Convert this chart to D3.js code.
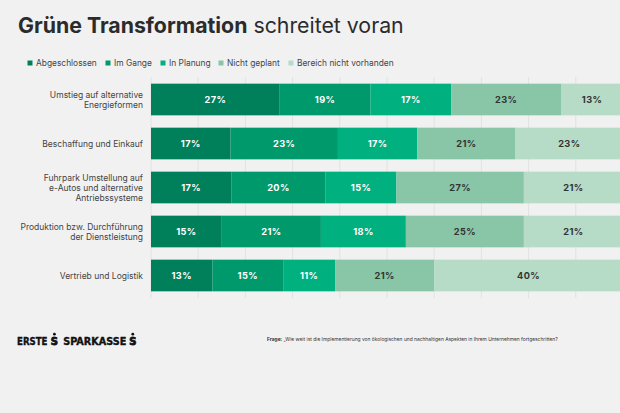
<!DOCTYPE html>
<html><head><meta charset="utf-8">
<script src="https://cdn.jsdelivr.net/npm/d3@7"></script>
<style>
html,body{margin:0;padding:0;background:#f1f1f1;overflow:hidden;}
svg{display:block;font-family:Inter,"Noto Sans",sans-serif;}
</style></head><body>
<svg id="c" width="620" height="413"></svg>
<script>
const categories = [
  ["Umstieg auf alternative","Energieformen"],
  ["Beschaffung und Einkauf"],
  ["Fuhrpark Umstellung auf","e-Autos und alternative","Antriebssysteme"],
  ["Produktion bzw. Durchführung","der Dienstleistung"],
  ["Vertrieb und Logistik"]
];
const seriesNames = ["Abgeschlossen","Im Gange","In Planung","Nicht geplant","Bereich nicht vorhanden"];
const abgeschlossen = [27,17,17,15,13];
const imGange = [19,23,20,21,15];
const inPlanung = [17,17,15,18,11];
const nichtGeplant = [23,21,27,25,21];
const bereichNichtVorhanden = [13,23,21,21,40];
const gridTicks = [0,0.1,0.2,0.3,0.4,0.5,0.6,0.7,0.8,0.9,1];

const colors = ["#007f5b","#00996c","#00b07f","#88c6a7","#b6dbc7"];
const labelColors = ["#ffffff","#ffffff","#ffffff","#333333","#333333"];
const seriesValues = [abgeschlossen, imGange, inPlanung, nichtGeplant, bereichNichtVorhanden];

const svg = d3.select("#c");
svg.append("rect").attr("width",620).attr("height",413).attr("fill","#f1f1f1");

// Title
const title = svg.append("text").attr("x",18).attr("y",33).attr("font-size",21.3).attr("fill","#2b2b2b");
title.append("tspan").attr("font-weight",700).text("Grüne Transformation");
title.append("tspan").attr("font-weight",400).text(" schreitet voran");

// Legend
const legendX = [27.5,105.5,160.5,218.5,288.5];
const lg = svg.append("g");
seriesNames.forEach((n,i)=>{
  lg.append("rect").attr("x",legendX[i]).attr("y",60.5).attr("width",5).attr("height",5).attr("fill",colors[i]);
  lg.append("text").attr("x",legendX[i]+8.5).attr("y",66).attr("font-size",8.4).attr("fill","#444").text(n);
});

const x = d3.scaleLinear().domain([0,1]).range([151,623]);
const y = d3.scaleBand().domain(d3.range(categories.length)).range([77.5,297.5]).paddingInner(0.28).paddingOuter(0.14);

// grid
svg.append("g").selectAll("line").data(gridTicks).join("line")
  .attr("x1",d=>x(d)).attr("x2",d=>x(d)).attr("y1",77).attr("y2",298)
  .attr("stroke","#e2e2e2").attr("stroke-width",1);

const stacked = d3.stack().keys(d3.range(5)).value((d,k)=>seriesValues[k][d])
  .offset(d3.stackOffsetExpand)(d3.range(categories.length));

const g = svg.append("g");
stacked.forEach((layer,k)=>{
  layer.forEach((seg,i)=>{
    g.append("rect").attr("x",x(seg[0])).attr("y",y(i))
      .attr("width",x(seg[1])-x(seg[0])).attr("height",y.bandwidth())
      .attr("fill",colors[k]);
    g.append("text").attr("x",(x(seg[0])+x(seg[1]))/2).attr("y",y(i)+y.bandwidth()/2+3.3)
      .attr("text-anchor","middle").attr("font-size",9.2).attr("font-weight",700)
      .attr("letter-spacing",0.4)
      .attr("fill",labelColors[k]).text(seriesValues[k][i]+"%");
  });
});

// category labels
categories.forEach((lines,i)=>{
  const cy = y(i)+y.bandwidth()/2;
  const lh = 10;
  const t = svg.append("text").attr("text-anchor","end").attr("font-size",8.5).attr("fill","#444");
  lines.forEach((l,j)=>{
    t.append("tspan").attr("x",143).attr("y",cy+3.1+(j-(lines.length-1)/2)*lh).text(l);
  });
});

// Logo
const logoFont = "'Liberation Sans Narrow','DejaVu Sans Condensed',sans-serif";
const logo = svg.append("g").attr("fill","#111").attr("stroke","#111").attr("stroke-width",0.35)
  .attr("font-family",logoFont).attr("font-weight",700).attr("font-size",10);
logo.append("text").attr("x",17).attr("y",345.3).attr("textLength",30.5).attr("lengthAdjust","spacingAndGlyphs").text("ERSTE");
logo.append("text").attr("x",63.3).attr("y",345.3).attr("textLength",63).attr("lengthAdjust","spacingAndGlyphs").text("SPARKASSE");
[50.8,129.2].forEach(sx=>{
  logo.append("text").attr("x",sx).attr("y",345.3).attr("textLength",7.2).attr("lengthAdjust","spacingAndGlyphs")
    .attr("font-size",10.5).attr("stroke-width",0.8).text("S");
  logo.append("circle").attr("cx",sx+3.6).attr("cy",334.2).attr("r",1.4).attr("stroke","none");
});

// Question
const q = svg.append("text").attr("x",267).attr("y",341).attr("font-size",4.9).attr("fill","#333");
q.append("tspan").attr("font-weight",700).text("Frage:");
q.append("tspan").text(" „Wie weit ist die Implementierung von ökologischen und nachhaltigen Aspekten in Ihrem Unternehmen fortgeschritten?");
</script>
</body></html>
